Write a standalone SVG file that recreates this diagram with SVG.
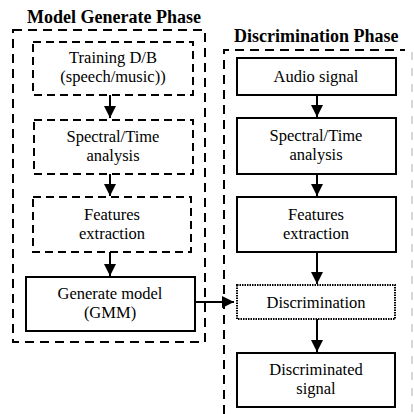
<svg xmlns="http://www.w3.org/2000/svg" width="414" height="414" viewBox="0 0 414 414">
<defs>
<style>
.t{font-family:"Liberation Serif","Times New Roman",serif;font-size:16.5px;fill:#000;text-anchor:middle}
.h{font-family:"Liberation Serif","Times New Roman",serif;font-size:18px;font-weight:bold;fill:#000}
.dash{fill:none;stroke:#000;stroke-width:2;stroke-dasharray:8 5}
.outer{fill:none;stroke:#000;stroke-width:2;stroke-dasharray:9 6}
.solid{fill:#fff;stroke:#000;stroke-width:2}
.dot{fill:#fff;stroke:#000;stroke-width:2;stroke-dasharray:1.5 1}
.c{fill:none;stroke:#000;stroke-width:2}
</style>
<marker id="ah" viewBox="0 0 12 12" refX="12" refY="6" markerWidth="12" markerHeight="12" markerUnits="userSpaceOnUse" orient="auto">
<path d="M0,0 L12,6 L0,12 Z" fill="#000"/>
</marker>
</defs>
<rect width="414" height="414" fill="#fff"/>

<g id="model-phase">
<text class="h" x="27" y="23">Model Generate Phase</text>
<rect class="outer" x="13" y="30" width="192" height="312"/>
</g>
<g id="disc-phase">
<text class="h" x="234" y="42">Discrimination Phase</text>
<path class="outer" d="M224,414 V50 H405"/>
<path d="M412,52 V414" fill="none" stroke="#ccc" stroke-width="1.5" stroke-dasharray="8 8"/>
</g>

<g id="connectors">
<path class="c" d="M110,95 V118" marker-end="url(#ah)"/>
<path class="c" d="M110,174 V196" marker-end="url(#ah)"/>
<path class="c" d="M110,252 V276" marker-end="url(#ah)"/>
<path class="c" d="M195,302 H234" marker-end="url(#ah)"/>
<path class="c" d="M317,95 V117" marker-end="url(#ah)"/>
<path class="c" d="M317,174 V196" marker-end="url(#ah)"/>
<path class="c" d="M317,252 V284" marker-end="url(#ah)"/>
<path class="c" d="M317,319 V352" marker-end="url(#ah)"/>
</g>

<g id="training">
<rect class="dash" x="33" y="42" width="160" height="53"/>
<text class="t" x="113" y="63">Training D/B</text>
<text class="t" x="113" y="82">(speech/music))</text>
</g>
<g id="spectral-left">
<rect class="dash" x="34" y="120" width="159" height="54"/>
<text class="t" x="113" y="142">Spectral/Time</text>
<text class="t" x="113" y="161">analysis</text>
</g>
<g id="features-left">
<rect class="dash" x="33" y="197" width="158" height="55"/>
<text class="t" x="112" y="220">Features</text>
<text class="t" x="112" y="239">extraction</text>
</g>
<g id="generate-model">
<rect class="solid" x="26" y="277" width="169" height="54" stroke-width="2.5"/>
<text class="t" x="110" y="299">Generate model</text>
<text class="t" x="110" y="318">(GMM)</text>
</g>

<g id="audio-signal">
<rect class="solid" x="237" y="58" width="159" height="37"/>
<text class="t" x="316" y="82">Audio signal</text>
</g>
<g id="spectral-right">
<rect class="solid" x="237" y="118" width="159" height="56"/>
<text class="t" x="316" y="141">Spectral/Time</text>
<text class="t" x="316" y="160">analysis</text>
</g>
<g id="features-right">
<rect class="solid" x="237" y="197" width="159" height="55"/>
<text class="t" x="316" y="220">Features</text>
<text class="t" x="316" y="239">extraction</text>
</g>
<g id="discrimination">
<rect class="dot" x="237" y="285" width="158" height="34"/>
<text class="t" x="316" y="308">Discrimination</text>
</g>
<g id="discriminated-signal">
<rect class="solid" x="237" y="353" width="158" height="54"/>
<text class="t" x="316" y="375">Discriminated</text>
<text class="t" x="316" y="394">signal</text>
</g>
</svg>
